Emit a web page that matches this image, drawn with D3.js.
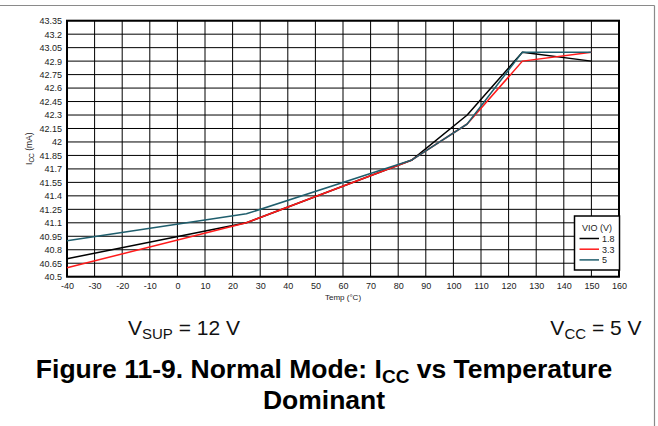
<!DOCTYPE html>
<html>
<head>
<meta charset="utf-8">
<script src="https://cdn.jsdelivr.net/npm/d3@7"></script>
<style>
  html, body { margin: 0; padding: 0; background: #fff; }
  svg { display: block; font-family: "Liberation Sans", Arial, sans-serif; }
</style>
</head>
<body>
<svg id="chart" width="658" height="426"></svg>
<script>
// Temperature sweep (°C)
const temps = [-40, 25, 85, 105, 125, 150];
// ICC (mA) per VIO supply
const icc18 = [40.7, 41.1, 41.8, 42.3, 43.0, 42.9];
const icc33 = [40.6, 41.1, 41.8, 42.2, 42.9, 43.0];
const icc5  = [40.9, 41.2, 41.8, 42.2, 43.0, 43.0];

const seriesNames = ["1.8", "3.3", "5"];
const seriesColors = ["#000000", "#ff1a1a", "#1f5e6d"];

const xTicks = d3.range(-40, 161, 10);
const yTicks = [40.5, 40.65, 40.8, 40.95, 41.1, 41.25, 41.4, 41.55, 41.7, 41.85,
                42, 42.15, 42.3, 42.45, 42.6, 42.75, 42.9, 43.05, 43.2, 43.35];

const svg = d3.select("#chart");
const plot = { left: 67, right: 619, top: 20.7, bottom: 276.7 };

const x = d3.scaleLinear().domain([-40, 160]).range([plot.left, plot.right]);
const y = d3.scaleLinear().domain([40.5, 43.35]).range([plot.bottom, plot.top]);

// outer figure frame (top and right edges)
svg.append("line").attr("x1", 0).attr("x2", 654.5).attr("y1", 5.5).attr("y2", 5.5)
  .attr("stroke", "#8a8a8a").attr("stroke-width", 1.2);
svg.append("line").attr("x1", 654.5).attr("x2", 654.5).attr("y1", 5.5).attr("y2", 426)
  .attr("stroke", "#8a8a8a").attr("stroke-width", 1.2);

// grid
const grid = svg.append("g");
grid.selectAll("line.v").data(xTicks).join("line")
  .attr("x1", d => x(d)).attr("x2", d => x(d))
  .attr("y1", plot.top).attr("y2", plot.bottom)
  .attr("stroke", "#000").attr("stroke-width", 1);
grid.selectAll("line.h").data(yTicks).join("line")
  .attr("x1", plot.left).attr("x2", plot.right)
  .attr("y1", d => y(d)).attr("y2", d => y(d))
  .attr("stroke", "#000").attr("stroke-width", 1);

// plot border
svg.append("rect")
  .attr("x", plot.left).attr("y", plot.top)
  .attr("width", plot.right - plot.left).attr("height", plot.bottom - plot.top)
  .attr("fill", "none").attr("stroke", "#000").attr("stroke-width", 2);

// axes (labels only; grid carries the lines)
const xAxis = d3.axisBottom(x).tickValues(xTicks).tickSize(0).tickPadding(6)
  .tickFormat(d => String(d));
const gx = svg.append("g").attr("transform", `translate(0,${plot.bottom})`).call(xAxis);
gx.select(".domain").remove();
gx.selectAll("text").attr("font-size", 9).attr("fill", "#222")
  .attr("font-family", "Liberation Sans, Arial, sans-serif");

const yAxis = d3.axisLeft(y).tickValues(yTicks).tickSize(0).tickPadding(5)
  .tickFormat(d => String(+d.toFixed(2)));
const gy = svg.append("g").attr("transform", `translate(${plot.left},0)`).call(yAxis);
gy.select(".domain").remove();
gy.selectAll("text").attr("font-size", 9).attr("fill", "#222")
  .attr("font-family", "Liberation Sans, Arial, sans-serif");

// axis titles
svg.append("text").attr("x", (plot.left + plot.right) / 2).attr("y", 300)
  .attr("text-anchor", "middle").attr("font-size", 8).attr("fill", "#222")
  .text("Temp (°C)");

const yt = svg.append("text")
  .attr("transform", `translate(32,${(plot.top + plot.bottom) / 2}) rotate(-90)`)
  .attr("text-anchor", "middle").attr("font-size", 8.5).attr("fill", "#222");
yt.append("tspan").text("I");
yt.append("tspan").attr("font-size", 6.5).attr("dy", 2).text("CC");
yt.append("tspan").attr("dy", -2).text(" (mA)");

// series
const allSeries = [icc18, icc33, icc5];
const line = d3.line().x((d, i) => x(temps[i])).y(d => y(d));
allSeries.forEach((vals, k) => {
  svg.append("path").datum(vals)
    .attr("d", line)
    .attr("fill", "none")
    .attr("stroke", seriesColors[k])
    .attr("stroke-width", 1.5)
    .attr("stroke-linejoin", "round");
});

// legend
const lg = svg.append("g");
lg.append("rect").attr("x", 574.5).attr("y", 216).attr("width", 45).attr("height", 54)
  .attr("fill", "#fff").attr("stroke", "#000").attr("stroke-width", 1.5);
lg.append("text").attr("x", 597).attr("y", 231).attr("text-anchor", "middle")
  .attr("font-size", 9).attr("fill", "#222").text("VIO (V)");
seriesNames.forEach((name, k) => {
  const yy = 238.5 + k * 10.7;
  lg.append("line").attr("x1", 579.5).attr("x2", 599).attr("y1", yy).attr("y2", yy)
    .attr("stroke", seriesColors[k]).attr("stroke-width", 1.5);
  lg.append("text").attr("x", 602).attr("y", yy + 3.3)
    .attr("font-size", 9).attr("fill", "#222").text(name);
});

// supply conditions
const vs = svg.append("text").attr("x", 128).attr("y", 334.5)
  .attr("font-size", 21).attr("fill", "#111");
vs.append("tspan").text("V");
vs.append("tspan").attr("font-size", 15).attr("dy", 4).text("SUP");
vs.append("tspan").attr("dy", -4).text(" = 12 V");

const vc = svg.append("text").attr("x", 641.5).attr("y", 334.5)
  .attr("text-anchor", "end").attr("font-size", 21).attr("fill", "#111");
vc.append("tspan").text("V");
vc.append("tspan").attr("font-size", 15).attr("dy", 4).text("CC");
vc.append("tspan").attr("dy", -4).text(" = 5 V");

// caption
const cap = svg.append("text").attr("x", 324).attr("y", 378)
  .attr("text-anchor", "middle").attr("font-size", 26.5).attr("font-weight", "bold")
  .attr("fill", "#000");
cap.append("tspan").text("Figure 11-9. Normal Mode: I");
cap.append("tspan").attr("font-size", 19).attr("dy", 5).text("CC");
cap.append("tspan").attr("dy", -5).text(" vs Temperature");

svg.append("text").attr("x", 324).attr("y", 408.5)
  .attr("text-anchor", "middle").attr("font-size", 26.5).attr("font-weight", "bold")
  .attr("fill", "#000").text("Dominant");
</script>
</body>
</html>
